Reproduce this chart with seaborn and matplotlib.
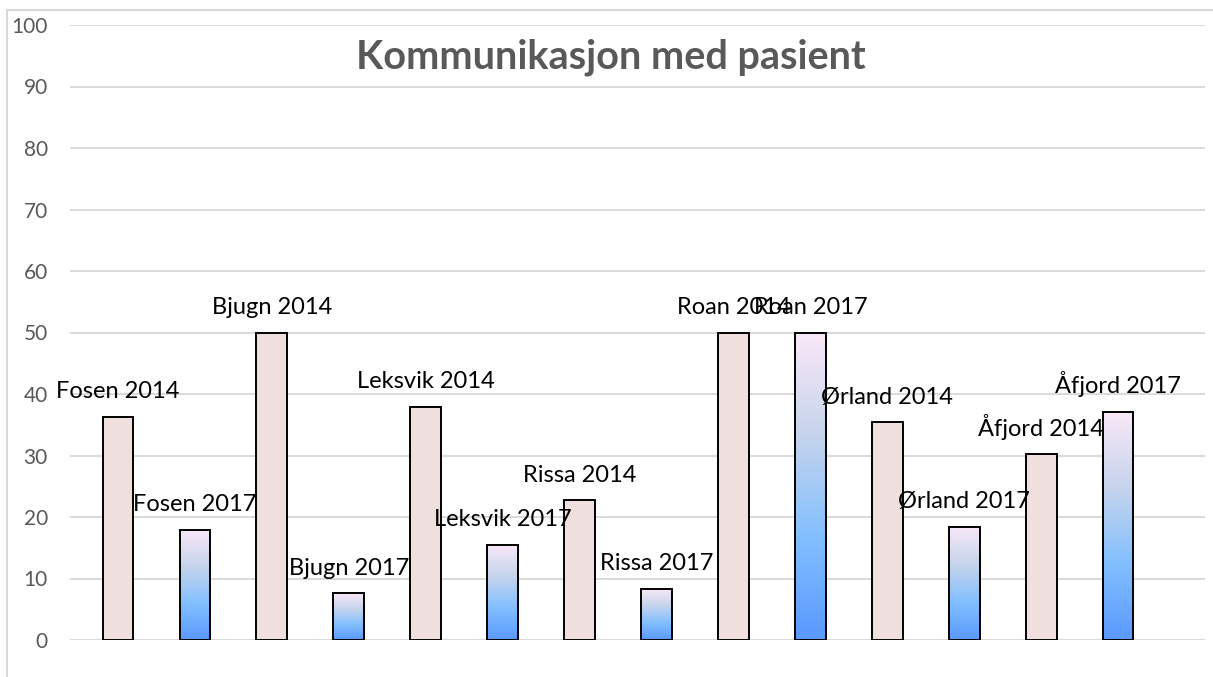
import numpy as np
import pandas as pd
import matplotlib
matplotlib.use("Agg")
import matplotlib.pyplot as plt
from matplotlib.colors import LinearSegmentedColormap
from matplotlib.patches import Rectangle
import seaborn as sns

# data
labels = ["Fosen 2014", "Fosen 2017", "Bjugn 2014", "Bjugn 2017",
          "Leksvik 2014", "Leksvik 2017", "Rissa 2014", "Rissa 2017",
          "Roan 2014", "Roan 2017", "Ørland 2014", "Ørland 2017",
          "Åfjord 2014", "Åfjord 2017"]
values = [36.3, 17.9, 50.0, 7.6, 37.9, 15.5, 22.7, 8.3,
          50.0, 50.0, 35.4, 18.4, 30.2, 37.1]
years = ["2014", "2017"] * 7
yticks = list(range(0, 101, 10))
title = "Kommunikasjon med pasient"

# colours
pink = "#F2DCDB"
grad_stops = ["#F9E8F8", "#C6D4EC", "#82BFFF", "#5A99FF"]
grid_col = "#D9D9D9"
text_grey = "#595959"

df = pd.DataFrame({"label": labels, "value": values, "year": years})

sns.set_theme(style="white")
plt.rcParams["font.family"] = ["Lato", "DejaVu Sans"]

fig = plt.figure(figsize=(12.13, 6.77), dpi=100)
ax = fig.add_axes([70 / 1213, 37 / 677, 1135 / 1213, 615 / 677])

palette = [pink if y == "2014" else "#5A99FF" for y in years]
sns.barplot(data=df, x="label", y="value", hue="label", palette=palette,
            width=0.4, dodge=False, legend=False, edgecolor="black",
            linewidth=1.4, ax=ax, zorder=3)

# gradient fill for the 2017 bars
cmap = LinearSegmentedColormap.from_list("grad", grad_stops[::-1])
grad = np.linspace(0, 1, 256).reshape(-1, 1)
for bar in ax.patches:
    i = int(round(bar.get_x() + bar.get_width() / 2))
    if years[i] != "2017":
        continue
    x0, w, h = bar.get_x(), bar.get_width(), bar.get_height()
    im = ax.imshow(grad, extent=[x0, x0 + w, 0, h], origin="lower",
                   aspect="auto", cmap=cmap, zorder=3.5)
    im.set_clip_path(bar)
    bar.set_facecolor("none")
    bar.set_zorder(4)

# data labels (the two Roan labels overlap in the original too)
for i, (lab, v) in enumerate(zip(labels, values)):
    ax.annotate(lab, (i, v), xytext=(0, 13.5), textcoords="offset points",
                ha="center", va="baseline", fontsize=17, color="black",
                zorder=5)

ax.set_xlim(-0.624, 14.13)
ax.set_ylim(0, 100)
ax.set_yticks(yticks)
ax.set_yticklabels([str(t) for t in yticks], color=text_grey, fontsize=15)
ax.tick_params(axis="y", length=0, pad=16)
ax.set_xticks([])
ax.set_xlabel("")
ax.set_ylabel("")
ax.yaxis.grid(True, color=grid_col, linewidth=1.4, zorder=0)
ax.set_axisbelow(True)
for s in ax.spines.values():
    s.set_visible(False)

fig.text(611 / 1213, 1 - 57 / 677, title, ha="center", va="center",
         fontsize=28.5, fontweight="bold", color=text_grey)

# chart area border (only left and top edges visible in the crop)
fig.patches.append(Rectangle((7 / 1213, -0.1), 1.2, 1 - 10 / 677 + 0.1,
                             transform=fig.transFigure, fill=False,
                             edgecolor=grid_col, linewidth=1.5))

fig.savefig("out.png", dpi=100)
